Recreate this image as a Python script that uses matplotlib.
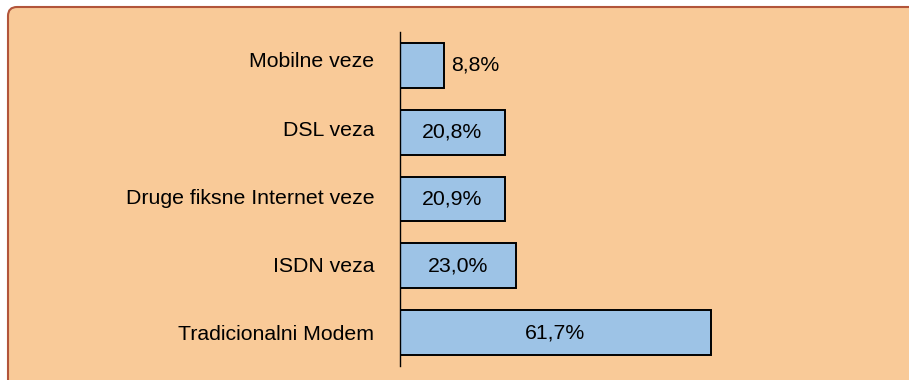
import matplotlib.pyplot as plt
from matplotlib.patches import FancyBboxPatch
from matplotlib.transforms import ScaledTranslation

plt.rcParams['font.family'] = ['Liberation Sans', 'DejaVu Sans']

# bottom to top
categories = ['Tradicionalni Modem', 'ISDN veza', 'Druge fiksne Internet veze', 'DSL veza', 'Mobilne veze']
values = [61.7, 23.0, 20.9, 20.8, 8.8]
labels = ['61,7%', '23,0%', '20,9%', '20,8%', '8,8%']

W, H = 909, 380
fig = plt.figure(figsize=(W / 100, H / 100), dpi=100)
fig.patch.set_facecolor('white')

# rounded panel behind the chart
panel = FancyBboxPatch((8 / W, -0.2), 1.2, (H - 7) / H + 0.2,
                       boxstyle='round,pad=0,rounding_size=%f' % (9 / W),
                       mutation_aspect=W / H,
                       transform=fig.transFigure, facecolor='#F9CA98',
                       edgecolor='#B2553A', linewidth=1.5, zorder=-10)
fig.patches.append(panel)

ax = fig.add_axes([399.5 / W, 14 / H, 505 / W, 334 / H])
ax.set_facecolor('none')
ax.set_zorder(5)

ypos = range(len(categories))
bars = ax.barh(ypos, values, height=0.67, color='#9DC3E6', edgecolor='black', linewidth=1.4)

ax.set_xlim(0, 100)
ax.set_ylim(-0.5, len(categories) - 0.5)
ax.set_yticks(list(ypos))
ax.set_yticklabels(categories, fontsize=15.3)
ax.tick_params(axis='y', length=0, pad=18)
ax.set_xticks([])
for side in ['top', 'right', 'bottom']:
    ax.spines[side].set_visible(False)
ax.spines['left'].set_linewidth(1.0)

# category labels creep upward slightly toward the top
for i, t in enumerate(ax.get_yticklabels()):
    t.set_transform(t.get_transform() + ScaledTranslation(0, i * 1.0 / 72, fig.dpi_scale_trans))

for y, v, lab in zip(ypos, values, labels):
    if v < 15:
        ax.text(v + 1.5, y, lab, ha='left', va='center', fontsize=15.3)
    else:
        ax.text(v / 2, y, lab, ha='center', va='center', fontsize=15.3)

fig.savefig('out.png', dpi=100)
